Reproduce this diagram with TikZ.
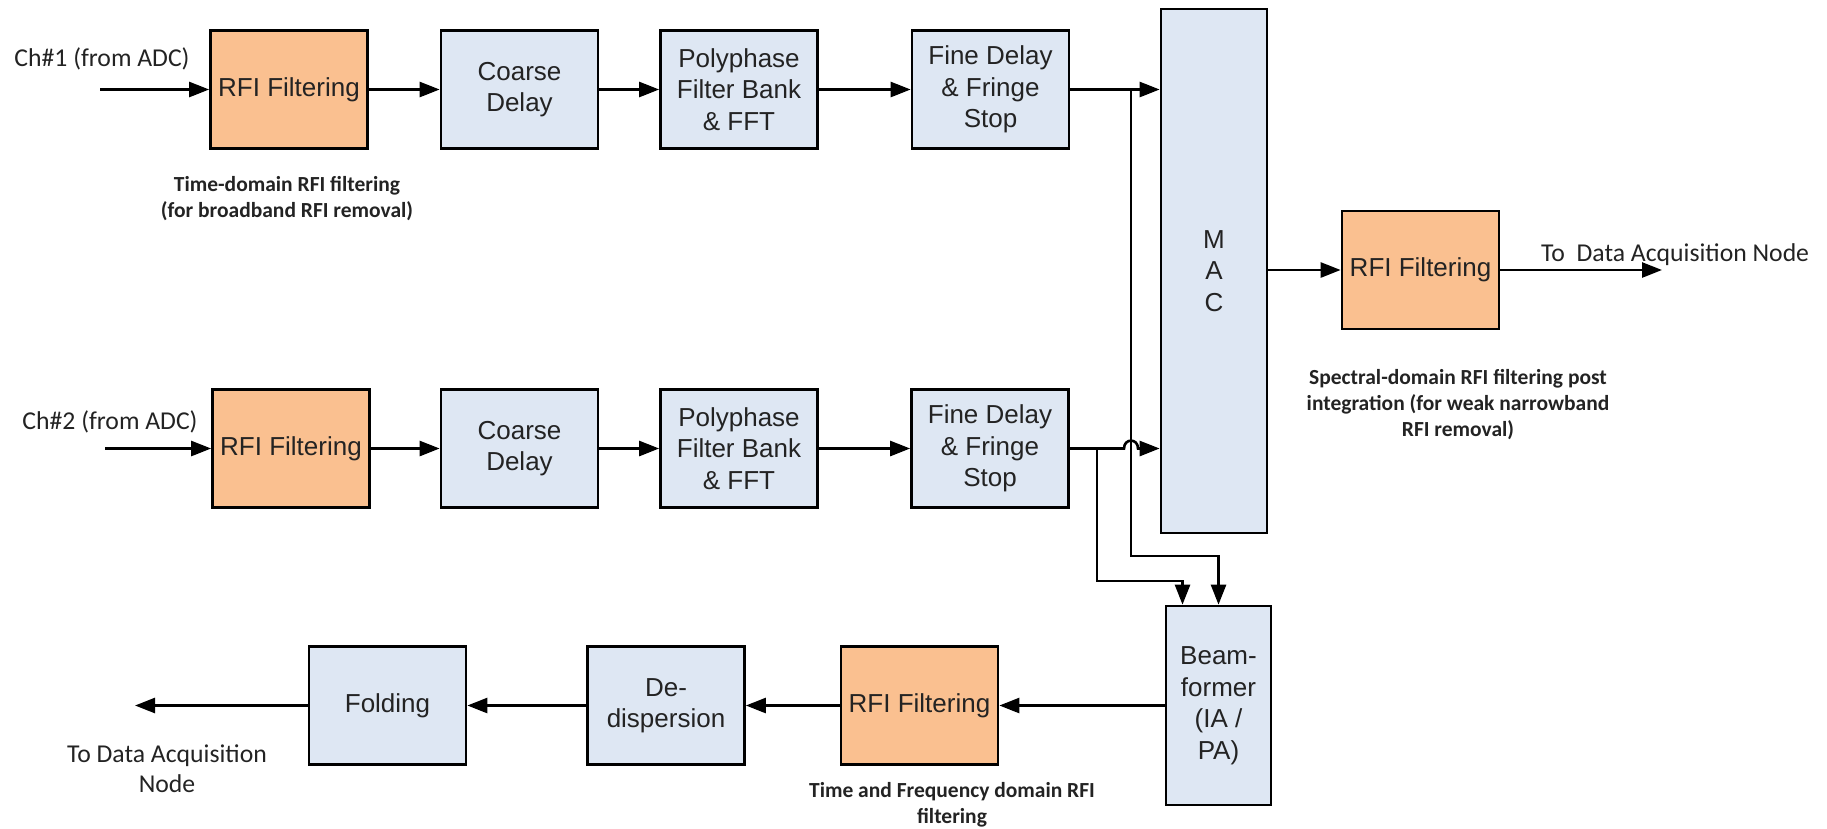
\documentclass[tikz,border=0pt]{standalone}
\usepackage{fontspec}
\setmainfont{Liberation Sans}
\newfontfamily\calfont{Carlito}
\usetikzlibrary{arrows.meta}
\definecolor{orfill}{RGB}{250,192,144}
\definecolor{blfill}{RGB}{222,231,243}
\definecolor{txt}{RGB}{35,35,35}
\begin{document}
\begin{tikzpicture}[x=1pt,y=-1pt,
  blk/.style={draw=black, line width=2.7pt, minimum width=157pt, minimum height=118pt, align=center, font=\fontsize{26}{31.5}\selectfont, text=txt, inner sep=0pt},
  rfi/.style={blk, fill=orfill},
  prc/.style={blk, fill=blfill},
  arr/.style={line width=2.6pt, -{Triangle[length=20pt,width=15pt]}},
  lbl/.style={font=\calfont\fontsize{25.7}{30}\selectfont, text=txt, align=center, inner sep=0pt},
  capt/.style={font=\calfont\bfseries\fontsize{21.5}{26}\selectfont, text=txt, align=center, inner sep=0pt}]
\useasboundingbox (0,0) rectangle (1827,828);

% row 1
\node[rfi] (rfiA) at (289,89.5) {RFI Filtering};
\node[prc] (coA) at (519.5,89.5) {Coarse\\Delay};
\node[prc] (ppA) at (739,89.5) {Polyphase\\Filter Bank\\\& FFT};
\node[prc] (fdA) at (990.5,89.5) {Fine Delay\\\& Fringe\\Stop};
% row 2
\node[rfi] (rfiB) at (291,448.5) {RFI Filtering};
\node[prc] (coB) at (519.5,448.5) {Coarse\\Delay};
\node[prc] (ppB) at (739,448.5) {Polyphase\\Filter Bank\\\& FFT};
\node[prc] (fdB) at (990,448.5) {Fine Delay\\\& Fringe\\Stop};
% MAC
\node[prc, minimum width=106pt, minimum height=524pt] (mac) at (1214,271) {M\\A\\C};
\node[rfi] (rfiC) at (1420.5,270) {RFI Filtering};
% bottom
\node[prc, minimum width=105pt, minimum height=199pt] (bf) at (1218.5,705.5) {Beam-\\former\\(IA /\\PA)};
\node[rfi] (rfiD) at (919.5,705.5) {RFI Filtering};
\node[prc] (dd) at (666,705.5) {De-\\dispersion};
\node[prc] (fo) at (387.5,705.5) {Folding};

% labels
\node[lbl] (chA) at (102,59) {Ch\#1 (from ADC)};
\node[lbl] (chB) at (110,422) {Ch\#2 (from ADC)};
\node[lbl, anchor=west] (outC) at (1541,255) {To\ \ Data Acquisition Node};
\node[lbl] (outD) at (167,769) {To Data Acquisition\\Node};
\node[capt] (capA) at (287,198.5) {Time-domain RFI filtering\\(for broadband RFI removal)};
\node[capt] (capC) at (1458,405) {Spectral-domain RFI filtering post\\integration (for weak narrowband\\RFI removal)};
\node[capt] (capD) at (952,805) {Time and Frequency domain RFI\\filtering};

% coordinates
\coordinate (inA) at (100,89.5);
\coordinate (inB) at (105,448.5);
\coordinate (endC) at (1662,270);
\coordinate (endD) at (135,705.5);
\coordinate (j1) at (1131,89.5);
\coordinate (k1) at (1131,556);
\coordinate (j2) at (1097,448.5);
\coordinate (k2) at (1097,581);
\coordinate (h1) at (1124,448.5);
\coordinate (h2) at (1138,448.5);

% row 1 connectors
\draw[arr] (inA) -- (rfiA);
\draw[arr] (rfiA) -- (coA);
\draw[arr] (coA) -- (ppA);
\draw[arr] (ppA) -- (fdA);
\draw[arr] (fdA.east) -- (mac.west |- fdA.east);
% row 2 connectors
\draw[arr] (inB) -- (rfiB);
\draw[arr] (rfiB) -- (coB);
\draw[arr] (coB) -- (ppB);
\draw[arr] (ppB) -- (fdB);
\draw[arr] (fdB.east) -- (h1) .. controls (1124,438) and (1138,438) .. (h2) -- (mac.west |- h2);
% to beamformer
\draw[arr] (j1) -- (k1) -| (bf.north);
\draw[arr] (j2) -- (k2) -| ([xshift=-36pt]bf.north);
% MAC output
\draw[arr] (mac.east |- rfiC.west) -- (rfiC.west);
\draw[arr] (rfiC.east) -- (endC);
% bottom chain
\draw[arr] (bf.west |- rfiD.east) -- (rfiD.east);
\draw[arr] (rfiD) -- (dd);
\draw[arr] (dd) -- (fo);
\draw[arr] (fo) -- (endD);
\end{tikzpicture}
\end{document}
